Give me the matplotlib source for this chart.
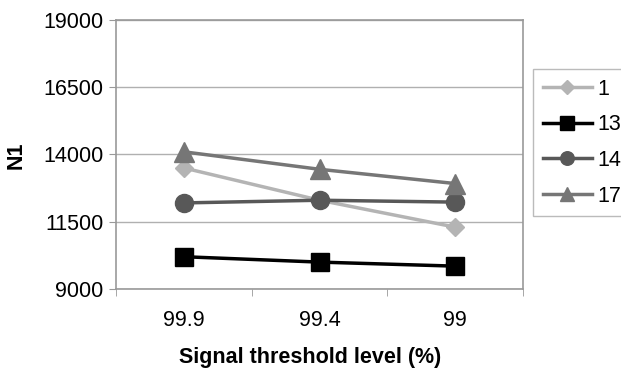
import matplotlib
matplotlib.use("Agg")
import matplotlib.pyplot as plt
import numpy as np

plt.rcParams['font.family'] = ['Liberation Sans', 'DejaVu Sans']

categories = ["99.9", "99.4", "99"]
series_names = ["1", "13", "14", "17"]
s1 = [13500, 12300, 11300]
s13 = [10200, 10000, 9850]
s14 = [12200, 12300, 12230]
s17 = [14100, 13450, 12920]
yticks = [9000, 11500, 14000, 16500, 19000]

colors = ["#b4b4b4", "#000000", "#585858", "#767676"]
markers = ["D", "s", "o", "^"]
msizes = [9, 13, 13, 14]

W, H = 621, 374
fig = plt.figure(figsize=(W/100, H/100), dpi=100)
ax = fig.add_axes([116/W, 1-289/H, (523-116)/W, (289-20)/H])

x = np.arange(len(categories))
for vals, name, c, m, ms in zip([s1, s13, s14, s17], series_names, colors, markers, msizes):
    ax.plot(x, vals, color=c, marker=m, markersize=ms, linewidth=2.5, label=name,
            markeredgecolor=c, zorder=3)

ax.set_xlim(-0.5, 2.5)
ax.set_ylim(9000, 19000)
ax.set_yticks(yticks)
ax.set_yticklabels([str(t) for t in yticks], fontsize=15.5)
ax.set_xticks(x)
ax.set_xticklabels(categories, fontsize=15.5)
ax.set_xticks([-0.5, 0.5, 1.5, 2.5], minor=True)
ax.tick_params(axis='x', which='major', length=0, pad=15)
ax.tick_params(axis='x', which='minor', length=5, color='#999999', direction='out')
ax.tick_params(axis='y', length=5, color='#999999', direction='out', pad=4)
ax.grid(axis='y', color='#b0b0b0', linewidth=1)
ax.set_axisbelow(True)
for sp in ax.spines.values():
    sp.set_color('#999999')
    sp.set_linewidth(1.2)

fig.text(16/W, 1-155/H, "N1", rotation=90, fontsize=15.5, fontweight='bold',
         ha='center', va='center')
fig.text(310/W, 1-357/H, "Signal threshold level (%)", fontsize=15.5, fontweight='bold',
         ha='center', va='center')

leg = fig.legend(loc='upper left', bbox_to_anchor=(533/W, 1-69/H), fontsize=15.5,
                 frameon=True, fancybox=False, edgecolor='#aaaaaa', handlelength=2.3,
                 handletextpad=0.25, labelspacing=0.68, borderpad=0.45, markerscale=0.75,
                 borderaxespad=0)
leg.get_frame().set_linewidth(1)

fig.savefig("out.png", dpi=100)
